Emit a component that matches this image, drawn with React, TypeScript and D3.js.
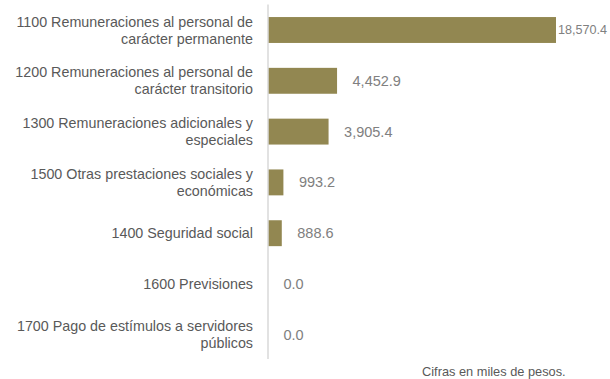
import React, { useEffect, useRef } from 'react';
import * as d3 from 'd3';

const categoryLines: string[][] = [
  ['1100 Remuneraciones al personal de', 'carácter permanente'],
  ['1200 Remuneraciones al personal de', 'carácter transitorio'],
  ['1300 Remuneraciones adicionales y', 'especiales'],
  ['1500 Otras prestaciones sociales y', 'económicas'],
  ['1400 Seguridad social'],
  ['1600 Previsiones'],
  ['1700 Pago de estímulos a servidores', 'públicos'],
];
const values = [18570.4, 4452.9, 3905.4, 993.2, 888.6, 0.0, 0.0];
const footnote = 'Cifras en miles de pesos.';

const W = 610;
const H = 379;

const App: React.FC = () => {
  const svgRef = useRef<SVGSVGElement>(null);

  useEffect(() => {
    if (!svgRef.current) return;
    const svg = d3.select(svgRef.current);
    svg.selectAll('*').remove();

    const font = 'Liberation Sans, Arial, sans-serif';
    const axisX = 268;
    const rightEdge = 607;
    const idx = values.map((_, i) => i);

    const x = d3.scaleLinear()
      .domain([0, d3.max(values) || 1])
      .range([axisX, 556]);

    const y = d3.scaleBand<number>()
      .domain(idx)
      .range([4.6, 360.2])
      .paddingInner(0.49)
      .paddingOuter(0.245);

    // bars
    svg.selectAll('rect.bar')
      .data(values)
      .enter()
      .append('rect')
      .attr('class', 'bar')
      .attr('x', axisX)
      .attr('y', (d, i) => y(i)!)
      .attr('width', d => x(d) - axisX)
      .attr('height', y.bandwidth())
      .attr('fill', '#928751');

    // vertical axis line
    svg.append('line')
      .attr('x1', axisX).attr('x2', axisX)
      .attr('y1', 4.5).attr('y2', 359)
      .attr('stroke', '#d9d9d9')
      .attr('stroke-width', 1.5);

    // category labels
    categoryLines.forEach((lines, i) => {
      const cy = y(i)! + y.bandwidth() / 2;
      const offsets = lines.length === 2 ? [-8.5, 8.5] : [0];
      lines.forEach((line, j) => {
        svg.append('text')
          .attr('x', 253)
          .attr('y', cy + offsets[j])
          .attr('dy', '0.35em')
          .attr('text-anchor', 'end')
          .attr('font-family', font)
          .attr('font-size', 14.3)
          .attr('fill', '#595959')
          .text(line);
      });
    });

    // value labels (smaller font when they'd run off the right edge)
    const fmt = d3.format(',.1f');
    values.forEach((v, i) => {
      const cy = y(i)! + y.bandwidth() / 2;
      const end = x(v);
      const t = svg.append('text')
        .attr('x', end + 15.5)
        .attr('y', cy)
        .attr('dy', '0.35em')
        .attr('font-family', font)
        .attr('font-size', 14.5)
        .attr('fill', '#808080')
        .text(fmt(v));
      const w = (t.node() as SVGTextElement).getComputedTextLength();
      if (end + 15.5 + w > rightEdge) {
        t.attr('x', rightEdge)
          .attr('text-anchor', 'end')
          .attr('font-size', 12.6);
      }
    });

    svg.append('text')
      .attr('x', 422)
      .attr('y', 372)
      .attr('dy', '0.35em')
      .attr('font-family', font)
      .attr('font-size', 12.8)
      .attr('fill', '#595959')
      .text(footnote);
  }, []);

  return (
    <svg
      ref={svgRef}
      width={W}
      height={H}
      style={{ position: 'absolute', left: 0, top: 0, background: '#fff' }}
    />
  );
};

export default App;
